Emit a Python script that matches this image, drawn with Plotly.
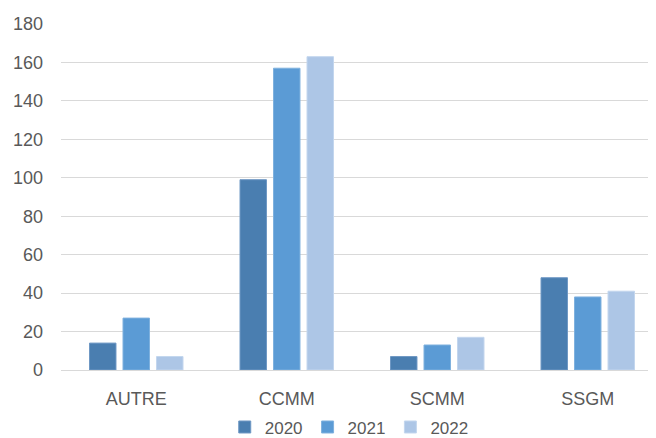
import plotly.graph_objects as go

categories = ["AUTRE", "CCMM", "SCMM", "SSGM"]
years = ["2020", "2021", "2022"]
v2020 = [14, 99, 7, 48]
v2021 = [27, 157, 13, 38]
v2022 = [7, 163, 17, 41]
y_ticks = [0, 20, 40, 60, 80, 100, 120, 140, 160, 180]

colors = ["#4A7EB0", "#5B9BD5", "#ADC6E6"]
edge = ["#6F98C4", "#7FB1DE", "#C3D6EE"]

fig = go.Figure()
for name, vals, c, e in zip(years, [v2020, v2021, v2022], colors, edge):
    fig.add_trace(go.Bar(x=categories, y=vals, name=name,
                         marker=dict(color=c, line=dict(color=e, width=1))))

font = "Liberation Sans, Arial, sans-serif"
fig.update_layout(
    width=656, height=438,
    margin=dict(l=53, r=1, t=16, b=76, autoexpand=False),
    paper_bgcolor="white", plot_bgcolor="white",
    barmode="group", bargap=0.332, bargroupgap=0.21,
    font=dict(family=font, size=18, color="#595959"),
    showlegend=True,
    legend=dict(orientation="h", x=0.272, xanchor="left", y=-0.166, yanchor="middle",
                font=dict(size=17, color="#595959"), itemwidth=30, tracegroupgap=0),
    xaxis=dict(showgrid=False, showline=True, linecolor="#D9D9D9", linewidth=1,
               ticks="", tickfont=dict(size=18, color="#595959"), ticklabelstandoff=12),
    yaxis=dict(range=[0, 180], tickvals=y_ticks, showgrid=True, gridcolor="#D9D9D9",
               gridwidth=1, zeroline=False, showline=False, ticks="",
               tickfont=dict(size=18, color="#595959"), ticklabelstandoff=17),
)
fig.write_html("out.html")
